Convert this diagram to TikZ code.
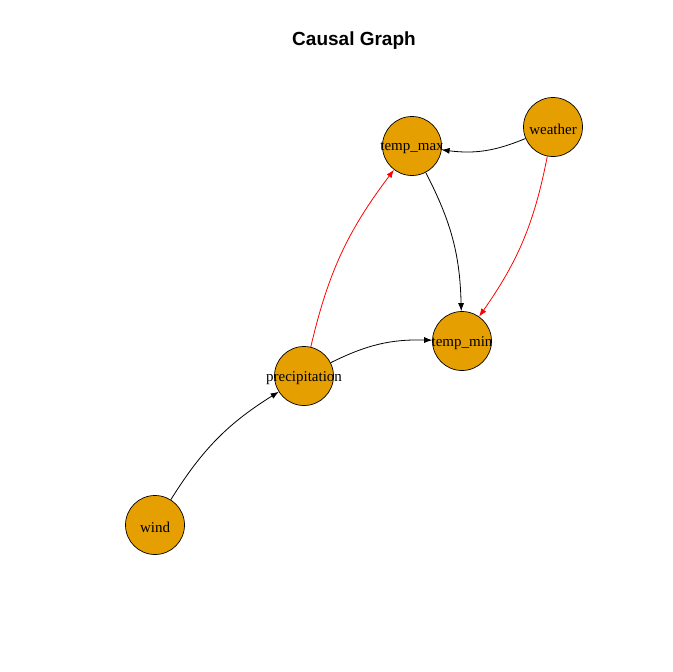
\documentclass[tikz,border=0pt]{standalone}
\usepackage{fontspec}
\setmainfont{Liberation Serif}
\newfontfamily\titlefont{Liberation Sans}
\usetikzlibrary{arrows.meta}
\definecolor{vorange}{HTML}{E69F00}
\definecolor{redge}{HTML}{FF0000}

\begin{document}
\begin{tikzpicture}[x=1pt,y=1pt,>={Latex[length=8pt,width=6pt]}]
    \tikzset{v/.style={circle,draw,line width=0.7pt,fill=vorange,minimum size=59pt,inner sep=0pt,
                       label={[font=\fontsize{15}{18}\selectfont,inner sep=0pt,yshift=-2pt]center:#1}},
             ar/.style={->,line width=0.8pt}}
    \useasboundingbox[fill=white] (0,0) rectangle (672,-672);
    \node[font=\titlefont\bfseries\fontsize{19}{23}\selectfont] (title) at (354,-41) {Causal Graph};
    \node[v=temp\_max] (tmax) at (412,-146) {};
    \node[v=weather] (weather) at (553,-127) {};
    \node[v=temp\_min] (tmin) at (462,-341) {};
    \node[v=precipitation] (prec) at (304,-376) {};
    \node[v=wind] (wind) at (155,-525) {};
    \draw[ar] (weather) to[bend left=15] (tmax);
    \draw[ar] (tmax) to[bend left=13] (tmin);
    \draw[ar,redge] (weather) to[bend left=12] (tmin);
    \draw[ar,redge] (prec) to[bend left=12] (tmax);
    \draw[ar] (prec) to[bend left=14] (tmin);
    \draw[ar] (wind) to[bend left=13] (prec);
\end{tikzpicture}
\end{document}
